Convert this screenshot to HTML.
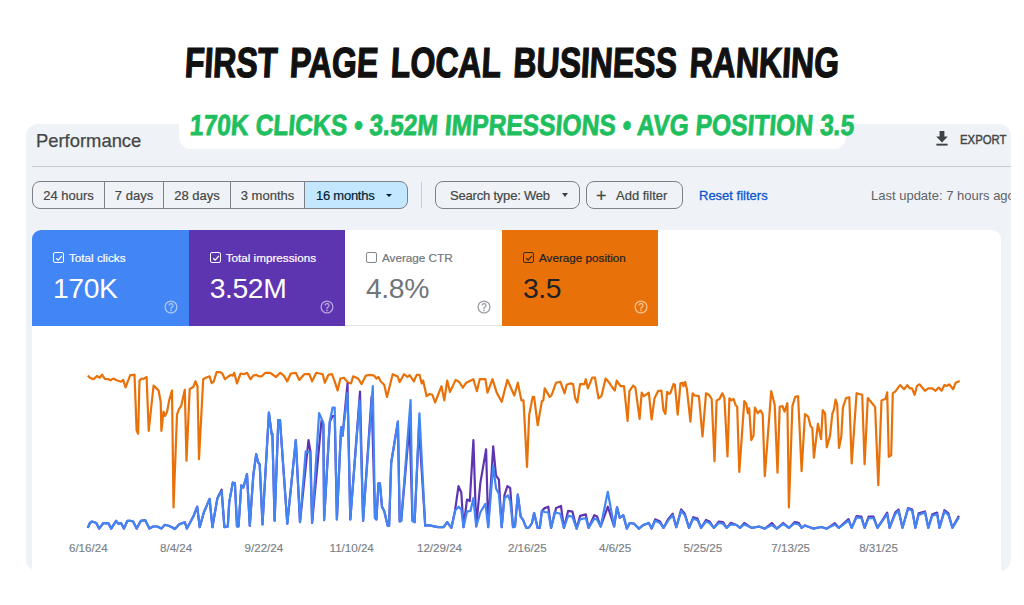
<!DOCTYPE html>
<html><head><meta charset="utf-8">
<style>
*{margin:0;padding:0;box-sizing:border-box}
html,body{width:1024px;height:605px;background:#fff;overflow:hidden;font-family:"Liberation Sans",sans-serif}
.a{position:absolute;white-space:nowrap;line-height:1}
#panel{left:26px;top:124px;width:985px;height:447px;background:#eff2f7;border-radius:12px;overflow:hidden}
#pill{left:179px;top:90px;width:667px;height:59px;background:#fff;border-radius:12px}
#title{left:186px;top:42px;font-size:42px;font-weight:bold;color:#111;word-spacing:5px;transform-origin:0 0;transform:scaleX(0.762) skewX(-4deg);-webkit-text-stroke:1.3px #111}
#green{left:191px;top:111px;font-size:29px;font-weight:bold;color:#1fbf5f;transform-origin:0 0;transform:scaleX(0.849) skewX(-5deg);-webkit-text-stroke:0.8px #1fbf5f}
#perf{left:10px;top:7.5px;font-size:18.4px;color:#444746;-webkit-text-stroke:0.25px #444746}
#div1{left:6px;top:42px;width:980px;height:1px;background:#c9ccd0}
.seg{position:absolute;top:57px;height:28px;border:1px solid #7d8185;font-size:13px;color:#444746;-webkit-text-stroke:0.2px #444746;display:flex;align-items:center;justify-content:center;white-space:nowrap}
#white{left:6px;top:106px;width:969px;height:400px;background:#fff;border-radius:9px;overflow:hidden}
.card{position:absolute;top:0;height:96px}
.lab{position:absolute;left:37px;top:22px;font-size:11.7px;-webkit-text-stroke:0.2px currentColor;white-space:nowrap;line-height:1}
.cb{position:absolute;left:21px;top:22px;width:11px;height:11px;border:1.3px solid #fff;border-radius:2px}
.num{position:absolute;left:21px;top:44px;font-size:28.3px;letter-spacing:-0.4px;white-space:nowrap;line-height:1}
.help{position:absolute;left:130.7px;top:69.3px}
.date{position:absolute;top:541.5px;font-size:11.6px;color:#7a7f84;-webkit-text-stroke:0.15px #7a7f84;white-space:nowrap;line-height:1;transform:translateX(-50%)}
</style></head><body>
<div class="a" id="panel">
  <div class="a" id="perf">Performance</div>
  <div class="a" id="div1"></div>
  <div class="seg" style="left:6px;width:73px;border-radius:8px 0 0 8px">24 hours</div>
  <div class="seg" style="left:78px;width:60px;border-radius:0">7 days</div>
  <div class="seg" style="left:137px;width:68px;border-radius:0">28 days</div>
  <div class="seg" style="left:204px;width:75px;border-radius:0">3 months</div>
  <div class="seg" style="left:278px;width:104px;border-radius:0 8px 8px 0;background:#c2e7ff;color:#001d35;-webkit-text-stroke:0.2px #001d35;letter-spacing:-0.25px;justify-content:flex-start;padding-left:11px">16 months<span style="position:absolute;left:81px;top:11.5px;width:0;height:0;border-left:3px solid transparent;border-right:3px solid transparent;border-top:3.5px solid #001d35"></span></div>
  <div class="a" style="left:395px;top:58px;width:1px;height:26px;background:#c9ccd0"></div>
  <div class="seg" style="left:409px;width:145px;border-radius:8px;justify-content:flex-start;padding-left:14px;letter-spacing:-0.2px">Search type: Web<span style="position:absolute;left:126px;top:11px;width:0;height:0;border-left:3.5px solid transparent;border-right:3.5px solid transparent;border-top:4px solid #3c4043"></span></div>
  <div class="seg" style="left:560px;width:97px;border-radius:8px;justify-content:flex-start;padding-left:29px"><span style="position:absolute;left:9px;top:5px;font-size:18px;line-height:1">+</span>Add filter</div>
  <div class="a" style="left:673px;top:65px;font-size:13px;color:#0b57d0;-webkit-text-stroke:0.3px #0b57d0">Reset filters</div>
  <div class="a" style="left:845px;top:65px;font-size:13px;color:#5f6368">Last update: 7 hours ago</div>
  <svg class="a" style="left:910px;top:7px" width="12" height="15" viewBox="0 0 12 15"><path d="M3.6 0h4.8v5.6h3.4L6 11.4 0.2 5.6h3.4z" fill="#3f4244"/><rect x="0.4" y="12.7" width="11.2" height="1.9" fill="#3f4244"/></svg>
  <div class="a" style="left:933.5px;top:8.8px;font-size:13.2px;color:#444746;-webkit-text-stroke:0.45px #444746;transform-origin:0 0;transform:scaleX(0.86)">EXPORT</div>
  <div class="a" id="white">
    <div class="card" style="left:0;width:156.7px;background:#4285f4;color:#fff">
      <div class="cb"><svg style="position:absolute;left:1px;top:1px" width="8" height="8" viewBox="0 0 8 8"><path d="M1.2 4.2 L3.2 6.1 L6.9 1.9" fill="none" stroke="#fff" stroke-width="1.3"/></svg></div><div class="lab">Total clicks</div><div class="num">170K</div><svg class="help" width="16" height="16" viewBox="0 0 16 16"><circle cx="8" cy="8" r="5.9" fill="none" stroke="#a9c8fa" stroke-width="1.3"/><path d="M6.1 6.5a1.95 1.95 0 1 1 2.8 1.7c-.6.3-.9.7-.9 1.4v.3" fill="none" stroke="#a9c8fa" stroke-width="1.3"/><circle cx="8" cy="11.4" r=".85" fill="#a9c8fa"/></svg>
    </div>
    <div class="card" style="left:156.7px;width:156.3px;background:#5e35b1;color:#fff">
      <div class="cb"><svg style="position:absolute;left:1px;top:1px" width="8" height="8" viewBox="0 0 8 8"><path d="M1.2 4.2 L3.2 6.1 L6.9 1.9" fill="none" stroke="#fff" stroke-width="1.3"/></svg></div><div class="lab">Total impressions</div><div class="num">3.52M</div><svg class="help" width="16" height="16" viewBox="0 0 16 16"><circle cx="8" cy="8" r="5.9" fill="none" stroke="#b7a3dd" stroke-width="1.3"/><path d="M6.1 6.5a1.95 1.95 0 1 1 2.8 1.7c-.6.3-.9.7-.9 1.4v.3" fill="none" stroke="#b7a3dd" stroke-width="1.3"/><circle cx="8" cy="11.4" r=".85" fill="#b7a3dd"/></svg>
    </div>
    <div class="card" style="left:313px;width:157px;background:#fff;color:#70757a;border-bottom:1px solid #e3e3e3">
      <div class="cb" style="border-color:#80868b"></div><div class="lab">Average CTR</div><div class="num">4.8%</div><svg class="help" width="16" height="16" viewBox="0 0 16 16"><circle cx="8" cy="8" r="5.9" fill="none" stroke="#9aa0a6" stroke-width="1.3"/><path d="M6.1 6.5a1.95 1.95 0 1 1 2.8 1.7c-.6.3-.9.7-.9 1.4v.3" fill="none" stroke="#9aa0a6" stroke-width="1.3"/><circle cx="8" cy="11.4" r=".85" fill="#9aa0a6"/></svg>
    </div>
    <div class="card" style="left:470px;width:156.3px;background:#e8710a;color:#202124">
      <div class="cb" style="border-color:#3c2a1a"><svg style="position:absolute;left:1px;top:1px" width="8" height="8" viewBox="0 0 8 8"><path d="M1.2 4.2 L3.2 6.1 L6.9 1.9" fill="none" stroke="#3c2a1a" stroke-width="1.3"/></svg></div><div class="lab">Average position</div><div class="num">3.5</div><svg class="help" width="16" height="16" viewBox="0 0 16 16"><circle cx="8" cy="8" r="5.9" fill="none" stroke="#f7c290" stroke-width="1.3"/><path d="M6.1 6.5a1.95 1.95 0 1 1 2.8 1.7c-.6.3-.9.7-.9 1.4v.3" fill="none" stroke="#f7c290" stroke-width="1.3"/><circle cx="8" cy="11.4" r=".85" fill="#f7c290"/></svg>
    </div>
  </div>
</div>
<div class="a" id="pill"></div>
<div class="a" id="title">FIRST PAGE LOCAL BUSINESS RANKING</div>
<div class="a" id="green">170K CLICKS • 3.52M IMPRESSIONS • AVG POSITION 3.5</div>
<div class="date" style="left:88.3px">6/16/24</div>
<div class="date" style="left:176.1px">8/4/24</div>
<div class="date" style="left:263.9px">9/22/24</div>
<div class="date" style="left:351.7px">11/10/24</div>
<div class="date" style="left:439.5px">12/29/24</div>
<div class="date" style="left:527.3px">2/16/25</div>
<div class="date" style="left:615.1px">4/6/25</div>
<div class="date" style="left:702.9px">5/25/25</div>
<div class="date" style="left:790.7px">7/13/25</div>
<div class="date" style="left:878.5px">8/31/25</div>
<!--CHART--><svg class="a" style="left:0;top:0" width="1024" height="605" viewBox="0 0 1024 605">
<path d="M87.8,375.6 L89.9,377.7 L93.5,379.2 L97.0,376.0 L99.8,377.7 L102.0,374.6 L104.8,378.9 L108.3,379.2 L110.4,380.3 L113.3,378.6 L116.8,380.3 L121.0,381.7 L123.2,379.9 L125.6,387.4 L128.1,380.6 L130.3,375.2 L132.4,375.2 L134.5,374.6 L136.6,430.2 L138.1,433.7 L139.5,380.6 L141.6,378.5 L143.7,378.9 L146.6,377.0 L148.7,430.9 L153.6,385.5 L156.5,388.4 L158.6,390.5 L160.7,401.8 L161.4,430.9 L163.5,411.7 L165.0,416.0 L167.1,411.7 L169.2,400.4 L172.0,390.5 L173.5,507.4 L177.0,414.6 L179.1,408.9 L181.2,406.0 L184.8,389.8 L186.5,460.6 L189.7,389.0 L193.3,387.0 L195.4,381.3 L197.5,386.2 L199.0,459.2 L203.2,379.2 L205.3,378.0 L209.6,376.3 L211.7,383.1 L213.8,381.3 L216.6,372.1 L220.2,372.1 L222.3,373.5 L225.0,379.2 L227.8,377.0 L230.7,374.9 L232.8,375.6 L234.2,372.8 L237.0,383.4 L240.6,373.5 L244.1,374.2 L247.0,372.8 L250.5,379.2 L253.3,375.6 L256.2,374.9 L259.0,376.3 L261.8,376.3 L265.4,372.8 L270.3,372.8 L276.0,377.0 L280.2,372.8 L283.8,375.6 L287.3,381.3 L290.8,373.5 L295.8,372.8 L299.3,379.9 L304.3,374.2 L309.3,374.2 L312.1,381.3 L316.3,372.8 L322.7,374.2 L324.8,382.7 L328.4,374.9 L331.9,374.2 L334.7,381.3 L337.6,390.5 L340.4,378.5 L343.9,377.7 L348.2,382.7 L351.0,383.4 L353.2,376.3 L358.1,378.5 L361.6,384.1 L365.9,375.6 L370.0,374.9 L374.2,375.6 L376.4,378.5 L378.5,377.0 L380.6,381.3 L384.2,384.8 L387.0,396.9 L392.7,374.2 L395.5,375.6 L397.6,376.3 L399.7,382.0 L404.0,374.2 L407.5,377.0 L409.6,375.2 L413.9,381.3 L416.7,374.9 L419.6,374.9 L421.7,383.4 L423.1,380.6 L426.6,396.2 L429.5,394.0 L432.3,394.7 L435.1,402.5 L441.5,386.2 L444.3,400.4 L447.2,380.6 L450.0,391.9 L455.7,379.9 L459.2,382.0 L462.8,387.7 L466.3,382.7 L473.4,379.2 L476.9,391.2 L479.7,379.2 L485.4,379.2 L487.5,392.6 L492.5,379.2 L496.7,392.6 L501.7,401.8 L507.4,379.9 L514.3,395.5 L517.8,382.7 L521.4,400.4 L523.5,400.4 L527.0,467.0 L529.2,414.6 L532.7,396.9 L534.1,396.9 L537.7,425.2 L541.9,401.1 L543.3,400.4 L544.7,388.4 L549.7,396.9 L551.8,394.7 L556.1,382.7 L560.3,381.7 L564.6,393.3 L566.7,384.8 L570.2,383.4 L573.1,384.1 L575.2,398.3 L577.3,402.5 L580.1,384.1 L584.4,384.1 L585.8,379.2 L587.9,388.4 L592.2,377.7 L595.0,377.7 L598.5,398.3 L601.4,396.2 L605.6,378.5 L609.2,382.7 L612.0,387.0 L614.8,390.5 L616.7,380.6 L620.5,386.2 L624.0,386.2 L627.6,421.0 L629.4,391.2 L633.2,385.5 L635.4,387.7 L639.6,418.8 L641.7,392.6 L643.9,396.2 L648.8,392.6 L651.6,419.5 L654.5,398.3 L658.0,391.2 L661.4,390.5 L663.5,410.3 L665.4,413.9 L667.1,391.9 L669.2,394.0 L670.6,392.6 L673.5,384.1 L674.9,384.8 L677.7,414.6 L680.5,383.4 L682.7,382.7 L683.4,386.2 L685.2,382.0 L686.9,389.0 L690.4,421.7 L692.6,393.3 L694.7,395.5 L698.9,396.2 L702.5,436.5 L706.0,393.3 L708.9,394.7 L711.7,399.0 L714.5,461.3 L716.6,400.4 L719.5,399.0 L722.3,393.3 L724.4,398.3 L727.5,456.4 L729.4,398.3 L731.5,400.4 L733.6,399.0 L735.8,405.4 L737.2,406.8 L739.3,472.0 L744.3,401.1 L746.4,404.0 L747.8,413.2 L749.2,408.2 L751.3,440.1 L753.5,435.8 L754.9,407.5 L757.7,413.2 L760.5,410.3 L762.7,414.6 L764.8,476.2 L771.2,391.2 L774.7,404.7 L777.5,472.7 L779.7,406.8 L782.5,406.1 L784.6,411.7 L787.4,403.2 L788.9,507.4 L792.4,406.1 L795.2,396.9 L798.1,396.2 L801.6,471.2 L805.0,414.1 L808.2,416.6 L810.6,426.2 L812.3,427.8 L813.9,457.7 L817.9,423.8 L821.1,439.1 L822.7,410.1 L825.1,413.3 L826.8,447.3 L830.0,435.9 L832.4,413.3 L834.0,409.3 L835.6,399.6 L837.2,404.5 L839.0,448.0 L841.3,436.7 L842.9,407.7 L846.1,398.0 L849.3,397.2 L851.7,463.4 L856.6,393.2 L862.2,394.8 L864.6,464.2 L867.8,398.0 L875.1,406.9 L878.3,485.1 L881.5,400.4 L885.6,398.8 L887.2,392.4 L888.8,456.8 L891.2,455.2 L892.8,393.2 L895.2,391.6 L900.1,385.1 L904.1,389.2 L907.3,385.1 L909.7,388.4 L912.0,388.4 L914.6,394.8 L917.0,385.9 L919.4,384.3 L925.0,390.8 L928.3,388.4 L932.3,388.4 L935.5,390.8 L938.7,387.6 L941.6,390.8 L944.4,385.1 L946.8,385.9 L949.2,384.3 L953.2,389.2 L955.7,382.7 L959.7,381.1" fill="none" stroke="#e8710a" stroke-width="2.2" stroke-linejoin="round"/>
<path d="M87.8,527.9 L89.9,523.0 L92.0,521.5 L94.2,522.2 L96.3,523.0 L99.1,528.6 L103.4,523.0 L106.2,523.4 L108.3,523.0 L111.2,528.6 L116.1,520.8 L118.2,523.7 L121.0,523.0 L123.9,528.6 L127.4,520.8 L130.3,520.8 L133.1,521.5 L136.6,528.6 L140.9,520.8 L145.1,520.1 L149.4,528.6 L152.9,526.5 L157.2,526.5 L161.4,528.6 L165.0,524.8 L168.5,525.8 L172.0,527.2 L174.9,529.0 L179.1,524.4 L184.8,522.2 L186.9,528.6 L193.3,516.6 L197.2,506.7 L199.7,527.2 L203.9,512.3 L209.6,498.9 L212.4,527.2 L217.4,498.2 L221.6,489.7 L224.4,527.2 L227.8,526.5 L229.2,502.4 L232.8,482.6 L234.9,483.3 L237.0,526.5 L238.5,526.5 L241.3,485.4 L243.4,487.5 L247.0,474.1 L249.8,525.8 L253.3,475.5 L256.2,454.2 L258.3,462.7 L259.7,464.2 L262.5,524.4 L268.9,412.7 L271.7,434.4 L272.4,433.7 L274.6,520.8 L278.3,420.2 L280.0,420.2 L287.3,523.7 L295.8,440.0 L300.0,522.2 L308.5,440.0 L310.5,452.0 L312.1,523.0 L321.5,420.5 L323.4,425.0 L324.1,520.1 L329.8,421.7 L332.6,416.0 L334.7,416.0 L336.9,519.4 L341.1,427.3 L342.5,435.8 L347.5,383.7 L350.3,519.4 L360.0,391.6 L363.1,520.8 L371.6,396.7 L375.0,518.0 L376.4,519.4 L378.5,483.3 L379.9,483.3 L382.0,506.7 L384.2,510.9 L387.7,525.8 L389.1,525.8 L391.2,462.7 L397.9,421.7 L399.7,521.5 L401.2,520.8 L409.6,424.5 L412.5,520.8 L414.6,522.2 L419.0,427.5 L425.2,525.8 L428.1,525.1 L438.0,527.2 L443.6,527.2 L447.2,522.2 L451.4,527.9 L455.0,510.9 L458.5,486.1 L461.3,492.5 L463.5,527.2 L467.0,499.6 L469.8,501.0 L473.4,440.0 L476.2,526.5 L480.4,482.6 L486.1,449.3 L488.2,527.2 L493.2,446.4 L496.0,475.5 L498.9,479.7 L501.7,527.2 L504.5,495.0 L507.4,486.1 L510.2,488.2 L513.0,527.2 L515.0,526.5 L517.8,494.6 L520.7,516.6 L522.8,519.4 L526.3,527.9 L529.0,527.5 L532.0,523.0 L534.1,513.0 L537.7,527.9 L539.8,527.9 L541.9,510.9 L544.7,508.1 L548.3,506.7 L551.1,527.9 L556.1,508.1 L561.0,506.0 L563.9,527.9 L568.1,510.9 L572.4,511.6 L576.6,528.6 L580.1,515.9 L585.8,514.4 L588.6,527.9 L594.3,515.2 L597.0,516.5 L600.7,526.5 L607.8,506.7 L614.1,526.5 L617.0,507.4 L619.8,518.0 L623.3,515.2 L626.9,528.6 L629.7,523.0 L634.0,523.7 L638.9,528.6 L643.2,525.1 L648.8,523.0 L651.6,528.6 L655.2,519.3 L660.0,521.5 L663.5,527.9 L668.5,518.6 L672.7,513.7 L676.3,527.2 L681.2,509.4 L684.8,513.7 L689.0,527.9 L693.3,517.2 L697.5,518.6 L701.1,527.9 L706.0,520.0 L709.6,521.5 L713.8,527.9 L718.8,521.5 L723.0,522.2 L726.6,527.9 L730.8,522.9 L736.5,525.0 L740.0,527.9 L744.3,522.9 L749.2,526.5 L752.0,527.9 L759.1,526.5 L764.8,528.6 L771.9,523.0 L776.8,528.6 L783.2,523.0 L788.9,527.9 L794.5,522.2 L798.7,522.8 L801.6,527.9 L805.0,525.4 L813.1,528.6 L821.1,527.0 L826.8,528.6 L834.8,523.1 L838.8,527.8 L848.5,519.1 L851.7,527.8 L856.6,516.0 L861.4,516.6 L864.6,527.8 L868.6,516.6 L873.5,516.6 L877.5,527.8 L887.2,512.6 L889.6,527.8 L895.2,512.6 L898.5,509.5 L902.5,527.8 L908.1,508.0 L912.2,509.5 L915.4,527.8 L918.6,513.4 L925.0,511.5 L928.3,527.8 L932.3,514.2 L937.1,512.6 L939.5,527.8 L944.4,510.2 L948.4,513.4 L952.4,527.8 L958.9,515.8" fill="none" stroke="#5e35b1" stroke-width="2.2" stroke-linejoin="round"/>
<path d="M87.8,527.9 L89.9,523.0 L92.0,521.5 L94.2,522.2 L96.3,523.0 L99.1,528.6 L103.4,523.0 L106.2,523.4 L108.3,523.0 L111.2,528.6 L116.1,520.8 L118.2,523.7 L121.0,523.0 L123.9,528.6 L127.4,520.8 L130.3,520.8 L133.1,521.5 L136.6,528.6 L140.9,520.8 L145.1,520.1 L149.4,528.6 L152.9,526.5 L157.2,526.5 L161.4,528.6 L165.0,524.8 L168.5,525.8 L172.0,527.2 L174.9,529.0 L179.1,524.4 L184.8,522.2 L186.9,528.6 L193.3,516.6 L197.2,506.7 L199.7,527.2 L203.9,512.3 L209.6,498.9 L212.4,527.2 L217.4,498.2 L221.6,491.1 L224.4,527.2 L227.8,526.5 L229.2,502.4 L232.8,482.6 L234.9,483.3 L237.0,526.5 L238.5,526.5 L241.3,485.4 L243.4,487.5 L247.0,474.1 L249.8,525.8 L253.3,475.5 L256.2,454.2 L258.3,462.7 L259.7,464.2 L262.5,524.4 L268.9,412.7 L271.7,434.4 L272.4,433.7 L274.6,520.8 L278.3,420.2 L280.0,420.2 L287.3,523.7 L295.8,440.0 L300.0,522.2 L305.7,451.4 L310.0,452.8 L312.1,523.0 L319.1,413.1 L323.4,423.0 L324.1,520.1 L329.8,421.7 L332.6,407.5 L334.7,407.5 L336.9,519.4 L341.1,427.3 L342.5,435.8 L347.5,393.0 L350.3,519.4 L359.6,400.4 L363.1,520.8 L372.8,386.0 L375.0,518.0 L376.4,519.4 L378.5,483.3 L379.9,483.3 L382.0,506.7 L384.2,510.9 L387.7,525.8 L389.1,525.8 L391.2,462.7 L397.9,421.7 L399.7,521.5 L401.2,520.8 L410.6,400.0 L412.5,520.8 L414.6,522.2 L419.4,413.4 L425.2,525.8 L428.1,525.1 L438.0,527.2 L443.6,527.2 L447.2,522.2 L451.4,527.9 L455.0,510.9 L458.5,506.7 L461.3,509.5 L463.5,527.2 L467.0,511.6 L470.5,510.9 L473.4,498.2 L476.2,526.5 L480.4,512.3 L485.4,503.8 L488.2,527.2 L493.2,465.6 L496.0,488.2 L498.9,493.9 L501.7,527.2 L504.5,498.2 L508.0,495.3 L510.2,501.0 L513.0,527.2 L515.0,526.5 L517.8,494.6 L520.7,516.6 L522.8,519.4 L526.3,527.9 L529.0,527.5 L532.0,523.0 L534.1,513.0 L537.7,527.9 L539.8,527.9 L541.9,510.9 L544.7,512.0 L548.3,512.3 L551.1,527.9 L554.6,512.3 L560.3,513.7 L563.9,527.9 L568.1,515.9 L572.4,516.6 L576.6,528.6 L580.1,519.4 L585.8,518.0 L588.6,527.9 L594.3,518.7 L597.0,519.4 L600.7,526.5 L607.8,491.8 L614.1,526.5 L617.0,507.4 L619.8,518.0 L623.3,515.2 L626.9,528.6 L629.7,523.0 L634.0,523.7 L638.9,528.6 L643.2,525.1 L648.8,523.0 L651.6,528.6 L655.2,520.8 L660.0,523.0 L663.5,527.9 L668.5,520.1 L672.7,515.2 L676.3,527.2 L681.2,510.9 L684.8,515.2 L689.0,527.9 L693.3,518.7 L697.5,520.1 L701.1,527.9 L706.0,521.5 L709.6,523.0 L713.8,527.9 L718.8,523.0 L723.0,523.7 L726.6,527.9 L730.8,524.4 L736.5,525.0 L740.0,527.9 L744.3,524.4 L749.2,526.5 L752.0,527.9 L759.1,526.5 L764.8,528.6 L771.9,525.0 L776.8,528.6 L783.2,524.0 L788.9,527.9 L794.5,523.5 L798.7,524.4 L801.6,527.9 L805.0,525.4 L813.1,528.6 L821.1,527.0 L826.8,528.6 L834.8,524.6 L838.8,527.8 L848.5,520.6 L851.7,527.8 L856.6,517.3 L861.4,518.1 L864.6,527.8 L868.6,518.1 L873.5,518.1 L877.5,527.8 L887.2,514.1 L889.6,527.8 L895.2,514.1 L898.5,510.9 L902.5,527.8 L908.1,508.5 L912.2,510.9 L915.4,527.8 L918.6,514.9 L925.0,512.5 L928.3,527.8 L932.3,515.7 L937.1,514.1 L939.5,527.8 L944.4,511.7 L948.4,514.9 L952.4,527.8 L958.9,517.3" fill="none" stroke="#4285f4" stroke-width="2.2" stroke-linejoin="round"/>
</svg><!--/CHART-->
</body></html>
